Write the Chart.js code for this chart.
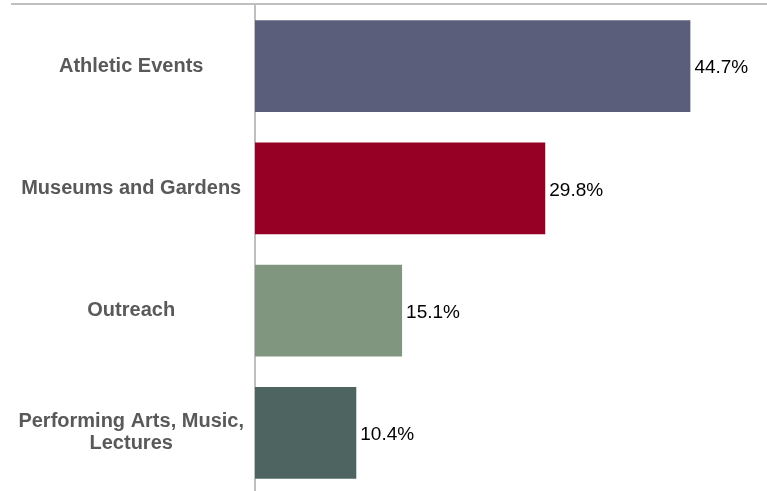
<!DOCTYPE html>
<html>
<head>
<meta charset="utf-8">
<script src="https://cdn.jsdelivr.net/npm/chart.js@4/dist/chart.umd.min.js"></script>
<style>
html,body{margin:0;padding:0;background:#fff;overflow:hidden;}
#wrap{position:relative;width:767px;height:494px;}
</style>
</head>
<body>
<div id="wrap"><canvas id="c"></canvas></div>
<script>
const categories = ["Athletic Events", "Museums and Gardens", "Outreach", ["Performing Arts, Music,", "Lectures"]];
const values = [44.7, 29.8, 15.1, 10.4];
const valueLabels = ["44.7%", "29.8%", "15.1%", "10.4%"];
const barColors = ["#5b5e7b", "#970025", "#81967f", "#4e6460"];

const topLinePlugin = {
  id: 'topLine',
  afterDraw(chart) {
    const ctx = chart.ctx;
    const top = chart.chartArea.top;
    ctx.save();
    ctx.strokeStyle = '#bfbfbf';
    ctx.lineWidth = 2;
    ctx.beginPath();
    ctx.moveTo(11, top - 1);
    ctx.lineTo(chart.width, top - 1);
    ctx.stroke();
    ctx.restore();
  }
};

const valueLabelPlugin = {
  id: 'valueLabels',
  afterDatasetsDraw(chart) {
    const ctx = chart.ctx;
    const meta = chart.getDatasetMeta(0);
    ctx.save();
    ctx.font = '19px "Liberation Sans", Arial, sans-serif';
    ctx.fillStyle = '#000000';
    ctx.textAlign = 'left';
    ctx.textBaseline = 'middle';
    meta.data.forEach((bar, i) => {
      ctx.fillText(valueLabels[i], bar.x + 4, bar.y + 2);
    });
    ctx.restore();
  }
};

new Chart(document.getElementById('c'), {
  type: 'bar',
  data: {
    labels: categories,
    datasets: [{
      data: values,
      backgroundColor: barColors,
      borderWidth: 0,
      barPercentage: 0.75,
      categoryPercentage: 1.0
    }]
  },
  options: {
    indexAxis: 'y',
    responsive: true,
    maintainAspectRatio: false,
    animation: false,
    layout: { padding: { top: 5, right: 25, left: 10, bottom: 0 } },
    plugins: { legend: { display: false }, tooltip: { enabled: false } },
    scales: {
      x: {
        min: 0, max: 50,
        display: false
      },
      y: {
        grid: { display: false },
        border: { display: true, color: '#bfbfbf', width: 2 },
        ticks: {
          color: '#595959',
          font: { family: '"Liberation Sans", Arial, sans-serif', size: 20, weight: 'bold', lineHeight: 1.1 },
          padding: 3,
          crossAlign: 'center'
        },
        afterFit(scale) { scale.width = 245; scale.paddingTop = 0; scale.paddingBottom = 0; }
      }
    }
  },
  plugins: [topLinePlugin, valueLabelPlugin]
});
</script>
</body>
</html>
